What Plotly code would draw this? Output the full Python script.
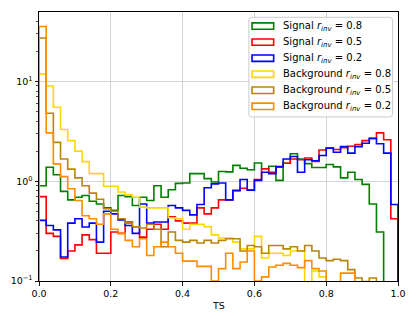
import numpy as np
import plotly.graph_objects as go

# ---------------- data ----------------
bin_edges = np.linspace(0.0, 1.0, 51)

sig_08 = [0.90, 1.38, 1.16, 0.79, 0.65, 0.69, 0.72, 0.63, 0.59, 0.54,
          0.51, 0.72, 0.70, 0.57, 0.69, 0.64, 0.90, 0.69, 0.82, 0.95,
          0.96, 1.19, 1.19, 1.06, 0.98, 1.25, 1.24, 1.44, 1.35, 1.30,
          1.52, 1.33, 1.41, 1.02, 1.51, 1.88, 1.67, 1.50, 1.37, 1.37,
          1.47, 1.39, 1.08, 1.23, 1.04, 0.93, 0.59, 0.31, 0.0, 0.0]

sig_05 = [0.70, 0.30, 0.28, 0.168, 0.20, 0.23, 0.29, 0.26, 0.19, 0.19,
          0.31, 0.30, 0.39, 0.35, 0.275, 0.33, 0.37, 0.33, 0.44, 0.40,
          0.38, 0.38, 0.54, 0.47, 0.54, 0.65, 0.65, 0.80, 0.85, 0.82,
          1.04, 1.33, 1.23, 1.38, 1.51, 1.67, 1.64, 1.71, 1.58, 2.05,
          2.16, 2.08, 2.16, 2.24, 2.33, 2.55, 2.67, 3.05, 2.60, 0.42]

sig_02 = [0.405, 0.36, 0.325, 0.174, 0.38, 0.42, 0.347, 0.38, 0.245, 0.50,
          0.47, 0.41, 0.36, 0.30, 0.59, 0.38, 0.39, 0.39, 0.57, 0.54,
          0.51, 0.46, 0.585, 0.86, 0.94, 0.96, 0.65, 0.81, 1.04, 0.81,
          1.02, 1.23, 1.19, 1.40, 1.67, 1.77, 1.23, 1.64, 1.60, 1.81,
          2.14, 1.95, 2.22, 1.91, 2.22, 2.40, 2.69, 2.37, 1.91, 0.585]

bkg_08 = [11.9, 9.0, 5.5, 3.3, 2.55, 2.0, 1.57, 1.19, 1.19, 0.89,
          0.89, 0.78, 0.73, 0.69, 0.55, 0.54, 0.54, 0.54, 0.43, 0.42,
          0.33, 0.37, 0.37, 0.35, 0.29, 0.27, 0.27, 0.245, 0.21, 0.21,
          0.28, 0.17, 0.19, 0.19, 0.18, 0.20, 0.20, 0.08, 0.126, 0.11,
          0.0, 0.0, 0.0, 0.0, 0.0, 0.0, 0.0, 0.0, 0.0, 0.0]

bkg_05 = [27.2, 4.8, 2.45, 1.67, 1.32, 1.08, 0.90, 0.76, 0.66, 0.53,
          0.50, 0.42, 0.38, 0.35, 0.34, 0.37, 0.33, 0.22, 0.31, 0.255,
          0.245, 0.255, 0.24, 0.255, 0.24, 0.255, 0.265, 0.265, 0.20, 0.227,
          0.22, 0.19, 0.227, 0.227, 0.21, 0.22, 0.20, 0.227, 0.20, 0.17,
          0.16, 0.165, 0.16, 0.13, 0.107, 0.099, 0.107, 0.03, 0.0, 0.0]

bkg_02 = [35.5, 3.05, 1.49, 1.11, 0.84, 0.64, 0.45, 0.42, 0.37, 0.47,
          0.33, 0.30, 0.255, 0.22, 0.265, 0.18, 0.22, 0.245, 0.22, 0.19,
          0.158, 0.158, 0.14, 0.14, 0.10, 0.133, 0.19, 0.133, 0.155, 0.20,
          0.10, 0.11, 0.138, 0.144, 0.15, 0.144, 0.136, 0.16, 0.133, 0.126,
          0.09, 0.09, 0.12, 0.12, 0.09, 0.0, 0.0, 0.0, 0.0, 0.0]

series = [sig_08, sig_05, sig_02, bkg_08, bkg_05, bkg_02]
labels = ["Signal <i>r</i><sub><i>inv</i></sub> = 0.8",
          "Signal <i>r</i><sub><i>inv</i></sub> = 0.5",
          "Signal <i>r</i><sub><i>inv</i></sub> = 0.2",
          "Background <i>r</i><sub><i>inv</i></sub> = 0.8",
          "Background <i>r</i><sub><i>inv</i></sub> = 0.5",
          "Background <i>r</i><sub><i>inv</i></sub> = 0.2"]
colors = ["#008000", "#ff0000", "#0000ff", "#ffd700", "#b8860b", "#ff8c00"]

x_ticks = [0.0, 0.2, 0.4, 0.6, 0.8, 1.0]
y_ticks = [0.1, 1, 10]
y_ticktext = ["10<sup>\u22121</sup>", "10<sup>0</sup>", "10<sup>1</sup>"]
y_minor = [m * 10.0 ** e for e in (-1, 0, 1) for m in range(2, 10) if m * 10.0 ** e < 50]

# ---------------- layout geometry (pixels) ----------------
W, H = 416, 319
PL, PR, PT, PB = 39.0, 400.5, 10.67, 280.67
FLOOR = 1e-3


def px(x):
    return (x - PL) / (PR - PL)


def py(y):
    return (PB - y) / (PB - PT)


fig = go.Figure()

for vals, name, col in zip(series, labels, colors):
    v = np.asarray(vals, dtype=float)
    v = np.where(v > 0, v, FLOOR)
    xs = np.concatenate([[bin_edges[0]], bin_edges[:-1], [bin_edges[-1], bin_edges[-1]]])
    ys = np.concatenate([[FLOOR], v, [v[-1], FLOOR]])
    fig.add_trace(go.Scatter(x=xs, y=ys, mode="lines", name=name,
                             line=dict(color=col, width=1.6, shape="hv"),
                             showlegend=False, hoverinfo="skip"))

FONT = "DejaVu Sans, Liberation Sans, sans-serif"
FS = 9.5

fig.update_layout(
    width=W, height=H,
    margin=dict(l=PL, r=W - PR, t=PT, b=H - PB, pad=0),
    paper_bgcolor="white", plot_bgcolor="white",
    font=dict(family=FONT, size=FS, color="black"),
    showlegend=False,
)

fig.update_xaxes(
    range=[0, 1], tickvals=x_ticks, ticktext=[f"{t:.1f}" for t in x_ticks],
    showgrid=True, gridcolor="#cfcfcf", gridwidth=0.9,
    showline=True, linecolor="black", linewidth=1, mirror=True,
    ticks="outside", ticklen=3.5, tickwidth=0.9, tickcolor="black",
    zeroline=False, tickfont=dict(size=FS),
)

fig.update_yaxes(
    type="log", range=[-1, 1.695],
    tickvals=y_ticks, ticktext=y_ticktext,
    showgrid=True, gridcolor="#cfcfcf", gridwidth=0.9,
    showline=True, linecolor="black", linewidth=1, mirror=True,
    ticks="outside", ticklen=3.5, tickwidth=0.9, tickcolor="black",
    zeroline=False, tickfont=dict(size=FS),
    minor=dict(tickvals=y_minor, ticks="outside", ticklen=2, tickwidth=0.7,
               tickcolor="black", showgrid=False),
)

# x-axis title
fig.add_annotation(text="TS", xref="paper", yref="paper", x=0.5, y=py(305),
                   xanchor="center", yanchor="middle", showarrow=False,
                   font=dict(size=FS, color="black"))

# ---------------- hand-drawn legend (matplotlib style) ----------------
lx0, lx1, ly0, ly1 = px(250.3), px(395.0), py(116.0), py(16.0)
rx, ry = 3.0 / (PR - PL), 3.0 / (PB - PT)
path = (f"M {lx0+rx},{ly0} L {lx1-rx},{ly0} Q {lx1},{ly0} {lx1},{ly0+ry} "
        f"L {lx1},{ly1-ry} Q {lx1},{ly1} {lx1-rx},{ly1} L {lx0+rx},{ly1} "
        f"Q {lx0},{ly1} {lx0},{ly1-ry} L {lx0},{ly0+ry} Q {lx0},{ly0} {lx0+rx},{ly0} Z")
fig.add_shape(type="path", path=path, xref="paper", yref="paper",
              fillcolor="rgba(255,255,255,0.8)", line=dict(color="#cccccc", width=1),
              layer="above")

row_y = [24.8 + 16.1 * i for i in range(6)]
for yc, name, col in zip(row_y, labels, colors):
    fig.add_shape(type="rect", xref="paper", yref="paper",
                  x0=px(253.5), x1=px(275.3), y0=py(yc + 3.2), y1=py(yc - 3.2),
                  line=dict(color=col, width=1.6), fillcolor="rgba(0,0,0,0)",
                  layer="above")
    fig.add_annotation(text=name, xref="paper", yref="paper",
                       x=px(283.0), y=py(yc), xanchor="left", yanchor="middle",
                       showarrow=False, font=dict(size=10, color="black"))

fig.write_html("out.html",
               config={"displayModeBar": False, "staticPlot": True},
               post_script="document.body.style.margin='0px';"
                           "document.body.style.padding='0px';")
